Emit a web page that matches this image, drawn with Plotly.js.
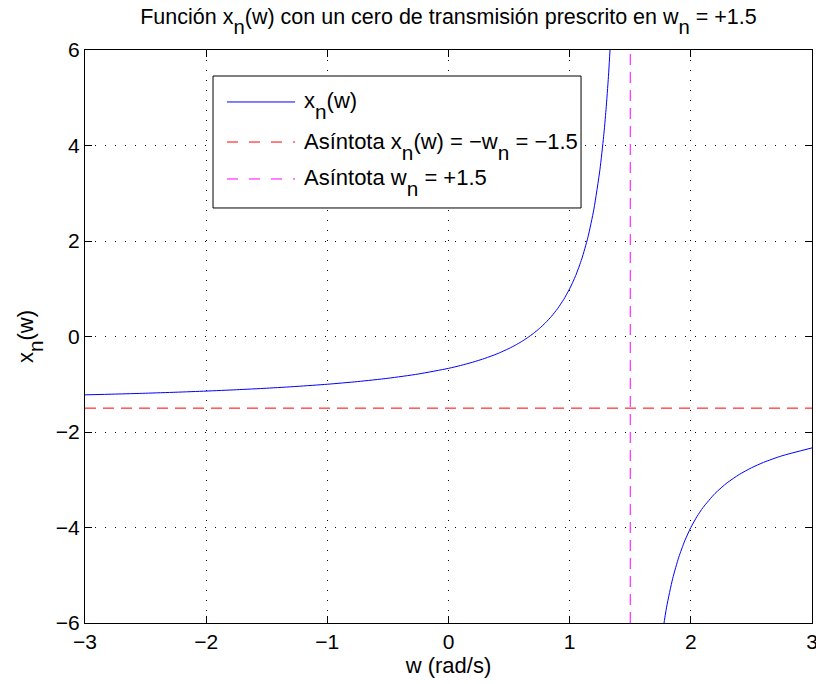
<!DOCTYPE html>
<html>
<head>
<meta charset="utf-8">
<script src="https://cdn.plot.ly/plotly-3.0.1.min.js"></script>
<style>
  html, body { margin: 0; padding: 0; background: #fff; }
  #chart { width: 816px; height: 684px; }
</style>
</head>
<body>
<div id="chart"></div>
<script>
// Prescribed transmission zero
const wn = 1.5;

// x_n(w) sampled on the branch left of the pole (w < wn)
const wLeft = [-3, -2.75, -2.5, -2.25, -2, -1.75, -1.5, -1.25, -1, -0.75, -0.5, -0.25,
               0, 0.1, 0.2, 0.3, 0.4, 0.5, 0.55, 0.6, 0.65, 0.7, 0.75, 0.8, 0.85, 0.9,
               0.95, 1.0, 1.05, 1.1, 1.15, 1.2, 1.25, 1.28, 1.3, 1.32, 1.34, 1.36];
const xLeft = [-1.222, -1.206, -1.188, -1.167, -1.143, -1.115, -1.083, -1.045, -1.0, -0.944,
               -0.875, -0.786, -0.667, -0.607, -0.538, -0.458, -0.364, -0.25, -0.184, -0.111,
               -0.029, 0.063, 0.167, 0.286, 0.423, 0.583, 0.773, 1.0, 1.278, 1.625, 2.071,
               2.667, 3.5, 4.182, 4.75, 5.444, 6.313, 7.429];

// x_n(w) sampled on the branch right of the pole (w > wn)
const wRight = [1.64, 1.7, 1.75, 1.8, 1.85, 1.9, 1.95, 2.0, 2.05, 2.1, 2.2, 2.3, 2.4, 2.5,
                2.6, 2.75, 3.0];
const xRight = [-10.429, -7.75, -6.5, -5.667, -5.071, -4.625, -4.278, -4.0, -3.773, -3.583,
                -3.286, -3.063, -2.889, -2.75, -2.636, -2.5, -2.333];

// Asymptotes
const hAsymW = [-3, 3];
const hAsymX = [-1.5, -1.5];
const vAsymW = [wn, wn];
const vAsymX = [-6, 6];

// Axis ticks
const xTicks = [-3, -2, -1, 0, 1, 2, 3];
const yTicks = [-6, -4, -2, 0, 2, 4, 6];

// Subscript drawn close to full size and dropped well below the baseline
const SUB = s => '<sub><span style="font-size:135%;baseline-shift:-0.3em">' + s + '</span></sub>';

// Legend entries
const legendLabels = [
  'x' + SUB('n') + '(w)',
  'Asíntota x' + SUB('n') + '(w) = \u2212w' + SUB('n') + ' = \u22121.5',
  'Asíntota w' + SUB('n') + ' = +1.5'
];
const legendColors = ['#0000ff', '#ff0000', '#ff00ff'];
const legendDash = ['solid', '11px,11px', '11px,11px'];

const FONT = '"Liberation Sans", Arial, Helvetica, sans-serif';

const curveW = wLeft.concat([null], wRight);
const curveX = xLeft.concat([null], xRight);

const traces = [
  {
    x: curveW, y: curveX, type: 'scatter', mode: 'lines',
    line: { color: '#0000ff', width: 1, shape: 'spline', smoothing: 0.6 },
    connectgaps: false, hoverinfo: 'skip', showlegend: false
  },
  {
    x: hAsymW, y: hAsymX, type: 'scatter', mode: 'lines',
    line: { color: '#ff0000', width: 1, dash: '11px,7px' },
    hoverinfo: 'skip', showlegend: false
  },
  {
    x: vAsymW, y: vAsymX, type: 'scatter', mode: 'lines',
    line: { color: '#ff00ff', width: 1, dash: '11px,7px' },
    hoverinfo: 'skip', showlegend: false
  }
];

// Boxed legend in the upper-left part of the axes
const box = { x0: 0.1761, x1: 0.6823, y0: 0.7243, y1: 0.9546 };
const rowY = [0.9093, 0.8394, 0.7749];
const sampleX = [0.1953, 0.2889];
const textX = 0.2985;

const shapes = [{
  type: 'rect', xref: 'paper', yref: 'paper',
  x0: box.x0, x1: box.x1, y0: box.y0, y1: box.y1,
  line: { color: '#000', width: 1 }, fillcolor: '#fff', layer: 'above'
}];
const annotations = [];
legendLabels.forEach((lab, i) => {
  shapes.push({
    type: 'line', xref: 'paper', yref: 'paper',
    x0: sampleX[0], x1: sampleX[1], y0: rowY[i], y1: rowY[i],
    line: { color: legendColors[i], width: 1, dash: legendDash[i] }, layer: 'above'
  });
  annotations.push({
    xref: 'paper', yref: 'paper', x: textX, y: rowY[i],
    xanchor: 'left', yanchor: 'middle', yshift: -4,
    text: lab, showarrow: false,
    font: { family: FONT, size: 22, color: '#000' }
  });
});

const axisCommon = {
  showline: true, linecolor: '#000', linewidth: 1,
  mirror: 'ticks', ticks: 'inside', ticklen: 7, tickcolor: '#000', tickwidth: 1,
  showgrid: true, gridcolor: '#000', gridwidth: 1, griddash: '1px,9px',
  zeroline: false, tickfont: { family: FONT, size: 21, color: '#000' },
  ticklabeloverflow: 'allow', fixedrange: true
};

const layout = {
  width: 816, height: 684,
  margin: { l: 85, r: 4, t: 50, b: 61 },
  paper_bgcolor: '#fff', plot_bgcolor: '#fff',
  font: { family: FONT, color: '#000' },
  title: {
    text: 'Función x' + SUB('n') + '(w) con un cero de transmisión prescrito en w' + SUB('n') + ' = +1.5',
    font: { family: FONT, size: 21.5, color: '#000' },
    x: 0.5, xref: 'paper', y: 0.976, yref: 'container', yanchor: 'middle'
  },
  xaxis: Object.assign({}, axisCommon, {
    range: [-3, 3], tickvals: xTicks,
    title: { text: 'w (rad/s)', font: { family: FONT, size: 22, color: '#000' }, standoff: 2 }
  }),
  yaxis: Object.assign({}, axisCommon, {
    range: [-6, 6], tickvals: yTicks,
    title: { text: 'x' + SUB('n') + '(w)', font: { family: FONT, size: 22, color: '#000' }, standoff: 16 }
  }),
  shapes: shapes,
  annotations: annotations,
  showlegend: false
};

Plotly.newPlot('chart', traces, layout, { staticPlot: true, displayModeBar: false });
</script>
</body>
</html>
